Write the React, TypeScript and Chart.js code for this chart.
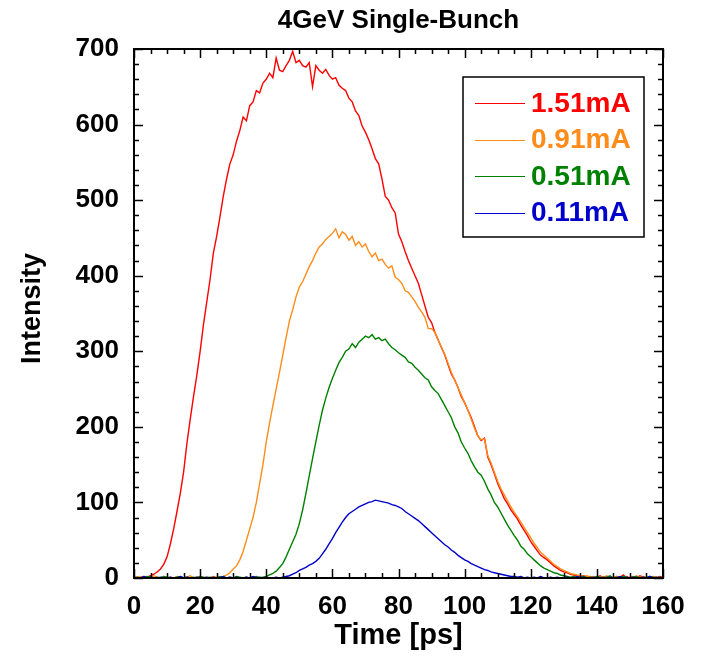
import React, { useEffect, useRef } from 'react';
import { Chart, registerables } from 'chart.js';

Chart.register(...registerables);

// ---- Data (Time in ps, Intensity) ----
const TIME: number[] = Array.from({ length: 161 }, (_, i) => i);

const RED_151: number[] = [
  0, 1, 0, 2, 1, 3, 5, 8, 12, 18,
  28, 45, 65, 88, 112, 140, 178, 210, 240, 268,
  300, 335, 365, 395, 430, 452, 478, 505, 528, 548,
  560, 578, 592, 610, 605, 625, 630, 645, 642, 655,
  660, 668, 662, 688, 672, 670, 678, 685, 697, 682,
  685, 678, 676, 682, 650, 678, 672, 668, 673, 665,
  660, 662, 652, 648, 645, 635, 630, 618, 612, 598,
  590, 580, 568, 555, 548, 528, 505, 500, 490, 483,
  455, 445, 432, 420, 410, 400, 390, 375, 360, 345,
  338, 325, 315, 305, 295, 282, 270, 262, 252, 240,
  232, 222, 212, 200, 188, 182, 185, 160, 150, 138,
  125, 115, 105, 98, 90, 84, 78, 70, 63, 56,
  48, 42, 36, 30, 27, 24, 20, 16, 13, 10,
  8, 7, 5, 4, 3, 2, 3, 1, 2, 0,
  1, 3, 0, 2, 1, 0, 2, 1, 4, 0,
  1, 2, 0, 3, 1, 0, 2, 1, 0, 2,
  1,
];

const ORANGE_091: number[] = [
  1, 0, 2, 0, 1, 0, 3, 1, 0, 2,
  0, 1, 0, 2, 1, 0, 1, 3, 0, 1,
  2, 0, 1, 0, 2, 1, 1, 2, 4, 7,
  12, 16, 24, 35, 50, 65, 80, 100, 125, 150,
  180, 205, 228, 250, 272, 295, 318, 340, 355, 372,
  385, 392, 402, 412, 420, 430, 438, 442, 448, 452,
  456, 462, 450, 458, 455, 447, 452, 440, 445, 438,
  442, 432, 425, 430, 420, 422, 415, 410, 413, 398,
  395, 390, 380, 378, 372, 366, 358, 352, 345, 330,
  330, 325, 315, 305, 296, 284, 272, 262, 252, 242,
  232, 222, 210, 198, 188, 183, 184, 162, 152, 140,
  128, 118, 110, 102, 94, 87, 81, 74, 67, 60,
  53, 46, 40, 34, 30, 26, 22, 18, 15, 12,
  10, 8, 6, 5, 4, 3, 2, 3, 1, 2,
  0, 2, 1, 3, 0, 1, 2, 0, 1, 2,
  0, 1, 3, 0, 2, 1, 0, 2, 1, 0,
  1,
];

const GREEN_051: number[] = [
  0, 1, 0, 0, 2, 1, 0, 1, 0, 2,
  1, 0, 0, 1, 2, 0, 1, 0, 1, 0,
  2, 1, 0, 1, 0, 0, 2, 1, 0, 1,
  0, 2, 1, 0, 1, 0, 1, 2, 0, 1,
  2, 4, 6, 9, 14, 19, 28, 38, 48, 58,
  72, 90, 112, 135, 158, 180, 202, 222, 238, 252,
  264, 275, 285, 292, 300, 303, 310, 305, 312, 316,
  320, 318, 322, 316, 318, 314, 316, 310, 305, 302,
  298, 295, 292, 286, 284, 279, 275, 270, 265, 262,
  253, 248, 244, 236, 228, 220, 212, 200, 192, 180,
  172, 165, 155, 147, 140, 136, 128, 118, 110, 100,
  94, 86, 78, 70, 63, 56, 50, 42, 38, 32,
  28, 24, 20, 16, 13, 11, 9, 7, 6, 4,
  3, 2, 1, 2, 0, 1, 2, 0, 1, 0,
  2, 1, 0, 1, 3, 0, 1, 0, 2, 1,
  0, 1, 2, 0, 1, 0, 2, 1, 0, 1,
  0,
];

const BLUE_011: number[] = [
  1, 0, 0, 2, 0, 1, 0, 0, 1, 0,
  0, 1, 0, 0, 2, 0, 1, 0, 0, 1,
  0, 0, 1, 0, 1, 0, 0, 2, 0, 1,
  0, 1, 0, 0, 1, 0, 2, 0, 1, 0,
  1, 0, 0, 1, 0, 1, 2, 3, 5, 7,
  10, 12, 14, 17, 19, 22, 26, 32, 38, 45,
  52, 60, 67, 74, 80, 85, 88, 91, 94, 96,
  98, 100, 101, 103, 102, 101, 100, 99, 97, 96,
  94, 92, 88, 85, 82, 79, 76, 72, 68, 64,
  60, 56, 52, 48, 44, 41, 37, 34, 30, 27,
  24, 22, 19, 17, 15, 13, 11, 10, 8, 7,
  6, 5, 4, 3, 2, 2, 1, 2, 0, 1,
  0, 1, 0, 2, 0, 0, 1, 0, 1, 0,
  0, 1, 0, 0, 2, 0, 1, 0, 0, 1,
  0, 0, 1, 0, 1, 0, 0, 2, 0, 1,
  0, 1, 0, 0, 1, 0, 2, 0, 1, 0,
  0,
];

const SERIES_LABELS: string[] = ['1.51mA', '0.91mA', '0.51mA', '0.11mA'];
const SERIES_COLORS: string[] = ['#ff0000', '#ff8c1a', '#008000', '#0000cc'];
const X_TICKS: number[] = [0, 20, 40, 60, 80, 100, 120, 140, 160];
const Y_TICKS: number[] = [0, 100, 200, 300, 400, 500, 600, 700];
const X_MINOR_STEP = 5;
const Y_MINOR_STEP = 20;
const TITLE = '4GeV Single-Bunch';
const X_TITLE = 'Time [ps]';
const Y_TITLE = 'Intensity';

const FONT_FAMILY = '"Liberation Sans", Arial, Helvetica, sans-serif';

const framePlugin = {
  id: 'framePlugin',
  afterDraw(chart: any) {
    const { ctx, chartArea } = chart;
    const { left, right, top, bottom } = chartArea;
    const xs = chart.scales.x;
    const ys = chart.scales.y;
    ctx.save();
    ctx.strokeStyle = '#000';
    ctx.lineWidth = 1.5;
    ctx.beginPath();
    const xMin = X_TICKS[0];
    const xMax = X_TICKS[X_TICKS.length - 1];
    for (let t = xMin; t <= xMax; t += X_MINOR_STEP) {
      const px = Math.round(xs.getPixelForValue(t)) + 0.5;
      const major = X_TICKS.includes(t);
      const len = major ? 9 : 5;
      ctx.moveTo(px, bottom);
      ctx.lineTo(px, bottom - len);
      ctx.moveTo(px, top);
      ctx.lineTo(px, top + len);
    }
    const yMin = Y_TICKS[0];
    const yMax = Y_TICKS[Y_TICKS.length - 1];
    for (let v = yMin; v <= yMax; v += Y_MINOR_STEP) {
      const py = Math.round(ys.getPixelForValue(v)) + 0.5;
      const major = Y_TICKS.includes(v);
      const len = major ? 9 : 5;
      ctx.moveTo(left, py);
      ctx.lineTo(left + len, py);
      ctx.moveTo(right, py);
      ctx.lineTo(right - len, py);
    }
    ctx.stroke();

    ctx.lineWidth = 2;
    ctx.strokeRect(left, top, right - left, bottom - top);

    ctx.fillStyle = '#000';
    ctx.textAlign = 'center';
    ctx.textBaseline = 'alphabetic';
    ctx.font = `bold 26px ${FONT_FAMILY}`;
    ctx.fillText(TITLE, (left + right) / 2, top - 21);

    ctx.font = `bold 29px ${FONT_FAMILY}`;
    ctx.fillText(X_TITLE, (left + right) / 2, bottom + 66);

    ctx.save();
    ctx.font = `bold 27px ${FONT_FAMILY}`;
    ctx.translate(left - 94, (top + bottom) / 2 - 5);
    ctx.rotate(-Math.PI / 2);
    ctx.fillText(Y_TITLE, 0, 0);
    ctx.restore();

    // legend box
    const bx1 = right - 200;
    const by1 = top + 28;
    const bw = 181;
    const bh = 160;
    ctx.lineWidth = 1.5;
    ctx.strokeRect(bx1, by1, bw, bh);
    ctx.font = `bold 28px ${FONT_FAMILY}`;
    ctx.textAlign = 'left';
    ctx.textBaseline = 'middle';
    SERIES_LABELS.forEach((lab, i) => {
      const ry = by1 + 26 + i * 36.5;
      ctx.strokeStyle = SERIES_COLORS[i];
      ctx.lineWidth = 1.2;
      ctx.beginPath();
      ctx.moveTo(bx1 + 12, Math.round(ry) + 0.5);
      ctx.lineTo(bx1 + 62, Math.round(ry) + 0.5);
      ctx.stroke();
      ctx.fillStyle = SERIES_COLORS[i];
      ctx.fillText(lab, bx1 + 68, ry + 1);
    });
    ctx.restore();
  },
};

export default function App() {
  const canvasRef = useRef<HTMLCanvasElement | null>(null);

  useEffect(() => {
    const canvas = canvasRef.current;
    if (!canvas) return;
    const seriesValues = [RED_151, ORANGE_091, GREEN_051, BLUE_011];
    const chart = new Chart(canvas, {
      type: 'line',
      data: {
        datasets: seriesValues.map((vals, i) => ({
          label: SERIES_LABELS[i],
          data: vals.map((v, k) => ({ x: TIME[k], y: v })),
          borderColor: SERIES_COLORS[i],
          backgroundColor: SERIES_COLORS[i],
          borderWidth: 1.4,
          pointRadius: 0,
          tension: 0,
          fill: false,
          order: 4 - i,
        })),
      },
      options: {
        animation: false,
        responsive: false,
        devicePixelRatio: 1,
        layout: { padding: { top: 49, right: 41, bottom: 0, left: 0 } },
        plugins: {
          legend: { display: false },
          title: { display: false },
          tooltip: { enabled: false },
        },
        scales: {
          x: {
            type: 'linear',
            min: X_TICKS[0],
            max: X_TICKS[X_TICKS.length - 1],
            afterFit: (s: any) => { s.height = 88; },
            afterBuildTicks: (s: any) => { s.ticks = X_TICKS.map((v) => ({ value: v })); },
            ticks: {
              color: '#000',
              font: { family: FONT_FAMILY, size: 26, weight: 'bold' },
              padding: 13,
              maxRotation: 0,
              autoSkip: false,
            },
            grid: { display: false, drawTicks: false },
            border: { display: false },
          },
          y: {
            type: 'linear',
            min: Y_TICKS[0],
            max: Y_TICKS[Y_TICKS.length - 1],
            afterFit: (s: any) => { s.width = 134; },
            afterBuildTicks: (s: any) => { s.ticks = Y_TICKS.map((v) => ({ value: v })); },
            ticks: {
              color: '#000',
              font: { family: FONT_FAMILY, size: 26, weight: 'bold' },
              padding: 15,
              autoSkip: false,
            },
            grid: { display: false, drawTicks: false },
            border: { display: false },
          },
        },
      },
      plugins: [framePlugin],
    } as any);
    return () => chart.destroy();
  }, []);

  return (
    <div style={{ position: 'fixed', left: 0, top: 0, width: 704, height: 666, background: '#fff' }}>
      <canvas ref={canvasRef} width={704} height={666} style={{ display: 'block', width: 704, height: 666 }} />
    </div>
  );
}
